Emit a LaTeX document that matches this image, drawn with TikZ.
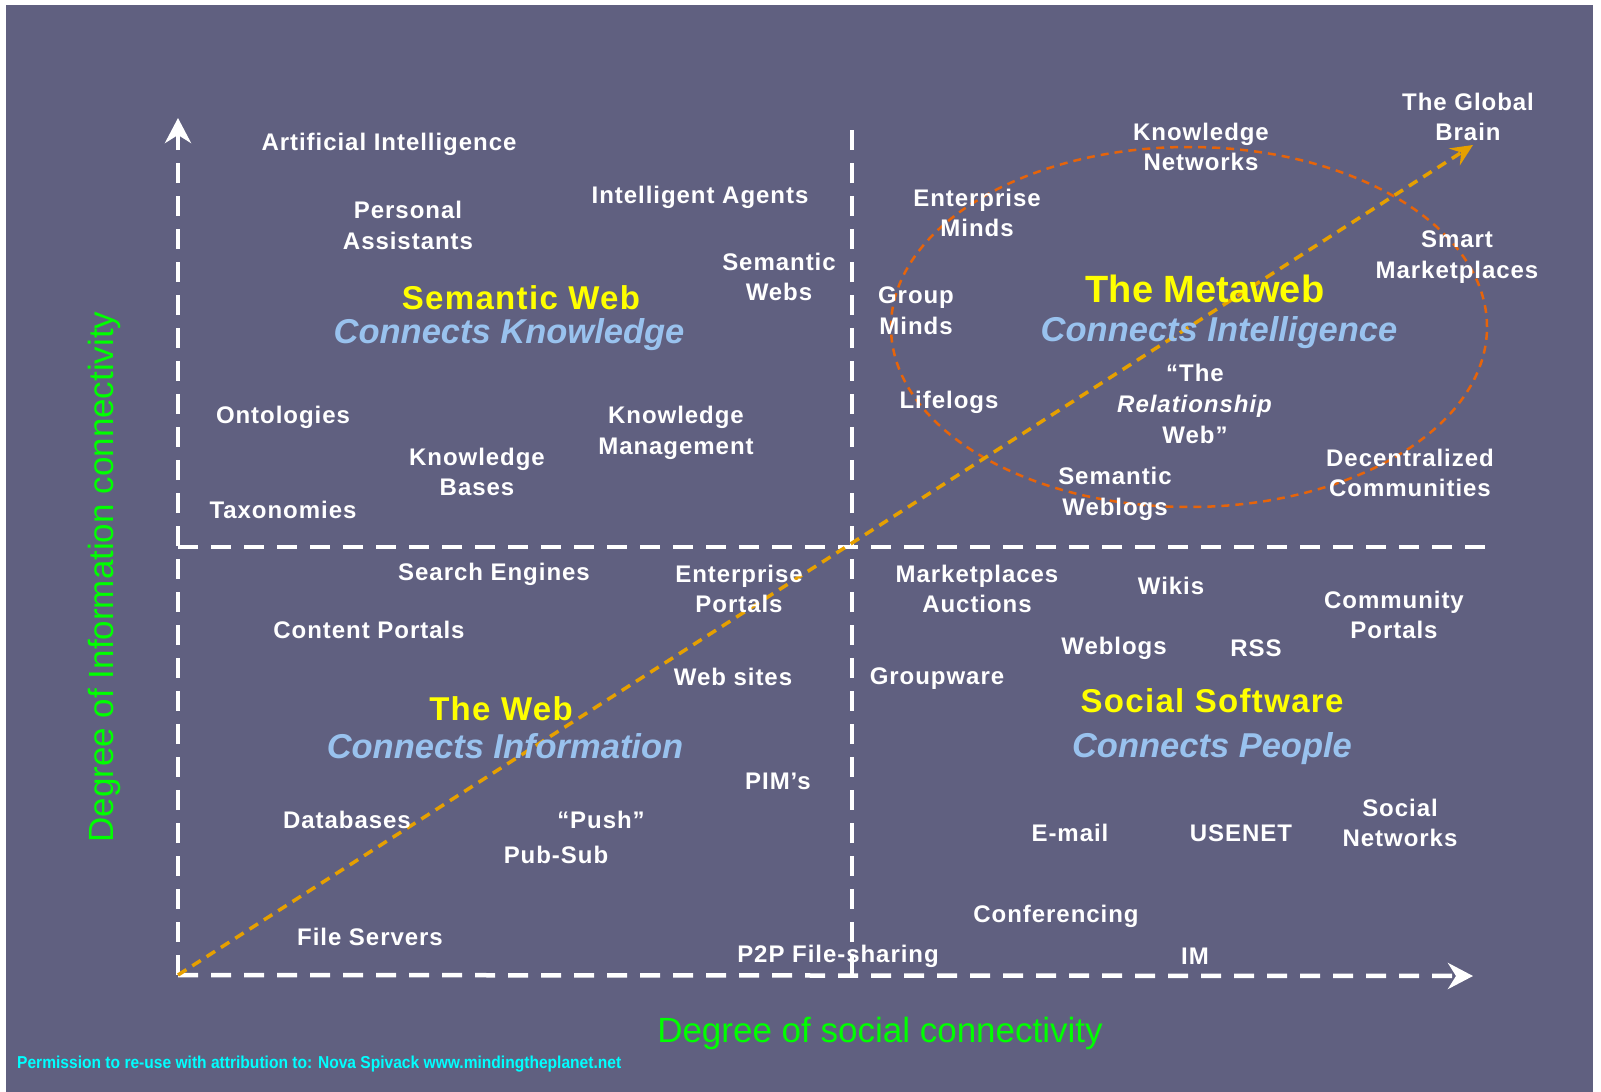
\documentclass[tikz,border=0pt]{standalone}
\usepackage{fontspec}
\setmainfont{Liberation Sans}
\newfontfamily\lblfont[LetterSpace=4]{Liberation Sans}
\usetikzlibrary{arrows.meta}
\definecolor{bgslate}{RGB}{96,96,128}
\definecolor{titleyellow}{RGB}{255,255,0}
\definecolor{subblue}{RGB}{153,194,238}
\definecolor{axisgreen}{RGB}{0,255,0}
\definecolor{permcyan}{RGB}{0,255,255}
\definecolor{diaggold}{RGB}{230,160,0}
\definecolor{ellorange}{RGB}{230,100,10}
\tikzset{
  lbl/.style={text=white, inner sep=0pt, align=center, yshift=-2pt,
    font=\lblfont\bfseries\fontsize{24}{30.6}\selectfont},
  ttl/.style={text=titleyellow, inner sep=0pt,
    font=\lblfont\bfseries\fontsize{33}{38}\selectfont},
  bigttl/.style={text=titleyellow, inner sep=0pt,
    font=\bfseries\fontsize{38}{44}\selectfont},
  sub/.style={text=subblue, inner sep=0pt, yshift=-3pt,
    font=\bfseries\itshape\fontsize{34.5}{40}\selectfont},
  axlbl/.style={text=axisgreen, inner sep=0pt,
    font=\fontsize{35}{40}\selectfont},
  axisline/.style={white, line width=4.5pt, dash pattern=on 20pt off 13pt,
    -{Stealth[length=25pt, width=26pt, inset=8pt]}},
  divline/.style={white, line width=4.5pt, dash pattern=on 20pt off 13pt},
  diagline/.style={diaggold, line width=3.5pt, dash pattern=on 10pt off 7pt,
    -{Stealth[length=22pt, width=20pt, inset=8pt]}},
  ellline/.style={ellorange, line width=2.5pt, dash pattern=on 8pt off 6pt}
}
\begin{document}
\begin{tikzpicture}[x=1pt, y=-1pt]
\useasboundingbox (0,0) rectangle (1601,1092);
\fill[white] (0,0) rectangle (1601,1092);
\fill[bgslate] (6,5) rectangle (1593,1092);

% named coordinates for the axes and dividers
\coordinate (origin) at (178,975);
\coordinate (ytip) at (178,118);
\coordinate (xtip) at (1473,976);
\coordinate (hleft) at (178,547);
\coordinate (hright) at (1491,547);
\coordinate (vtop) at (852,130);
\coordinate (vbot) at (852,975);
\coordinate (gtip) at (1473,145);
\coordinate (ellc) at (1189,327);

% dividers
\draw[divline] (hleft) -- (hright);
\draw[divline] (vtop) -- (vbot);
% axes
\draw[axisline] (origin) -- (ytip);
\draw[axisline] (origin) -- (xtip);
% ellipse and diagonal
\draw[ellline] (ellc) ellipse [x radius=298pt, y radius=180pt];
\draw[diagline] (origin) -- (gtip);

% top-left quadrant
\node[lbl] (ai) at (389,142) {Artificial Intelligence};
\node[lbl] (pa) at (408,223.6) {Personal\\Assistants};
\node[lbl] (ia) at (700,195) {Intelligent Agents};
\node[lbl] (sws) at (779,275) {Semantic\\Webs};
\node[ttl] (swt) at (521,298) {Semantic Web};
\node[sub] (swc) at (509,332) {Connects Knowledge};
\node[lbl] (onto) at (283,415.5) {Ontologies};
\node[lbl] (kb) at (477,470) {Knowledge\\Bases};
\node[lbl] (km) at (676,431) {Knowledge\\Management};
\node[lbl] (tax) at (283,508) {Taxonomies};

% top-right quadrant
\node[lbl] (kn) at (1201,145) {Knowledge\\Networks};
\node[lbl] (gb) at (1468,115) {The Global\\Brain};
\node[lbl] (em) at (977,211) {Enterprise\\Minds};
\node[lbl] (sm) at (1457,255) {Smart\\Marketplaces};
\node[lbl] (gm) at (916,309) {Group\\Minds};
\node[bigttl] (mwt) at (1205,289) {The Metaweb};
\node[sub] (mwc) at (1219,330) {Connects Intelligence};
\node[lbl] (life) at (949,400) {Lifelogs};
\node[lbl] (rw) at (1195,402) {“The\\\textit{Relationship}\\Web”};
\node[lbl] (dc) at (1410,471) {Decentralized\\Communities};
\node[lbl] (swl) at (1115,492) {Semantic\\Weblogs};

% bottom-left quadrant
\node[lbl] (se) at (494,572) {Search Engines};
\node[lbl] (ep) at (739,587) {Enterprise\\Portals};
\node[lbl] (cp) at (369,628) {Content Portals};
\node[lbl] (ws) at (733,675) {Web sites};
\node[ttl] (wt) at (501,709) {The Web};
\node[sub] (wc) at (505,743) {Connects Information};
\node[lbl] (pim) at (778,779) {PIM’s};
\node[lbl] (db) at (347,818) {Databases};
\node[lbl] (push) at (601,818) {“Push”};
\node[lbl] (ps) at (556,853) {Pub-Sub};
\node[lbl] (fs) at (370,935) {File Servers};
\node[lbl] (p2p) at (838,954) {P2P File-sharing};

% bottom-right quadrant
\node[lbl] (ma) at (977,587) {Marketplaces\\Auctions};
\node[lbl] (wiki) at (1171,584) {Wikis};
\node[lbl] (comp) at (1394,613) {Community\\Portals};
\node[lbl] (wl) at (1114,646) {Weblogs};
\node[lbl] (rss) at (1256,646) {RSS};
\node[lbl] (gw) at (937,677) {Groupware};
\node[ttl] (sst) at (1212,701) {Social Software};
\node[sub] (ssc) at (1212,746) {Connects People};
\node[lbl] (sn) at (1400,821) {Social\\Networks};
\node[lbl] (mail) at (1070,831) {E-mail};
\node[lbl] (usenet) at (1241,831) {USENET};
\node[lbl] (conf) at (1056,914) {Conferencing};
\node[lbl] (im) at (1195,954) {IM};

% axis labels
\node[axlbl] (xlab) at (880,1033) {Degree of social connectivity};
\node[axlbl, rotate=90] (ylab) at (104,577) {Degree of Information connectivity};

% permission
\node[text=permcyan, inner sep=0pt, anchor=west] (perm) at (17,1064)
  {\resizebox{604pt}{12.5pt}{\bfseries Permission to re-use with attribution to: Nova Spivack www.mindingtheplanet.net}};
\end{tikzpicture}
\end{document}
